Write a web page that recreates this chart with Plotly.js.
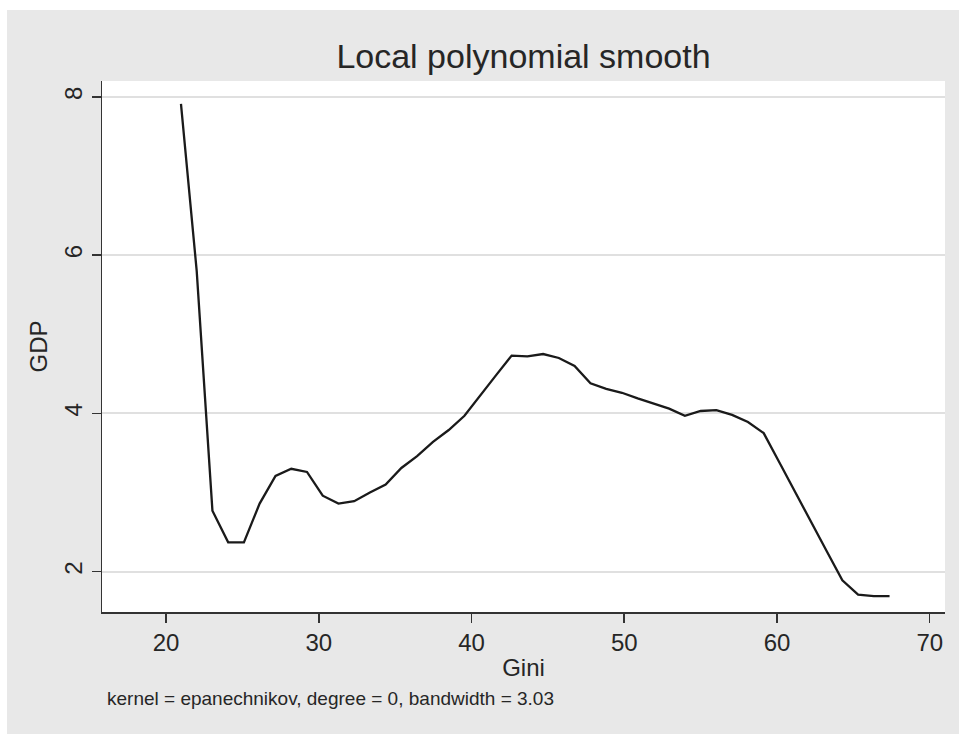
<!DOCTYPE html>
<html>
<head>
<meta charset="utf-8">
<script src="https://cdn.plot.ly/plotly-3.0.1.min.js"></script>
<style>
  html, body { margin: 0; padding: 0; background: #ffffff; }
  #chart { position: absolute; left: 7px; top: 10px; width: 952px; height: 724px; }
</style>
</head>
<body>
<div id="chart"></div>
<script>
// Gini (x) values of the evaluation grid
const gini = [20.98, 22.01, 23.04, 24.07, 25.10, 26.13, 27.17, 28.20, 29.23, 30.26,
              31.29, 32.32, 33.35, 34.38, 35.41, 36.44, 37.48, 38.51, 39.54, 40.57,
              41.60, 42.63, 43.66, 44.69, 45.72, 46.75, 47.79, 48.82, 49.85, 50.88,
              51.91, 52.94, 53.97, 55.00, 56.03, 57.06, 58.10, 59.13, 60.16, 61.19,
              62.22, 63.25, 64.28, 65.31, 66.34, 67.37];
// Smoothed GDP values
const gdp = [7.91, 5.80, 2.77, 2.37, 2.37, 2.86, 3.21, 3.30, 3.26, 2.96,
             2.86, 2.89, 3.00, 3.10, 3.31, 3.46, 3.64, 3.79, 3.97, 4.23,
             4.48, 4.73, 4.72, 4.75, 4.70, 4.60, 4.38, 4.31, 4.26, 4.19,
             4.12, 4.06, 3.97, 4.03, 4.04, 3.98, 3.89, 3.75, 3.38, 3.00,
             2.63, 2.26, 1.89, 1.71, 1.69, 1.69];
const xTicks = [20, 30, 40, 50, 60, 70];
const yTicks = [2, 4, 6, 8];
const chartTitle = "Local polynomial smooth";
const xTitle = "Gini";
const yTitle = "GDP";
const note = "kernel = epanechnikov, degree = 0, bandwidth = 3.03";

const font = "'Liberation Sans', Arial, Helvetica, sans-serif";
const textColor = "#262626";

const trace = {
  x: gini, y: gdp, type: "scatter", mode: "lines",
  line: { color: "#1a1a1a", width: 2.3 },
  hoverinfo: "skip", showlegend: false
};

const layout = {
  width: 952, height: 724,
  paper_bgcolor: "#e8e8e8",
  plot_bgcolor: "#ffffff",
  margin: { l: 95, r: 14, t: 71, b: 122, pad: 0 },
  font: { family: font, color: textColor },
  showlegend: false,
  title: {
    text: chartTitle,
    font: { size: 34, family: font, color: textColor },
    x: 0.5, xref: "paper", xanchor: "center",
    y: 0.9365, yref: "container", yanchor: "middle"
  },
  xaxis: {
    range: [15.81, 71.0],
    tickmode: "array", tickvals: xTicks, ticktext: xTicks.map(String),
    ticks: "outside", ticklen: 9, tickwidth: 1.5, tickcolor: "#333333",
    showline: true, linecolor: "#333333", linewidth: 1.5,
    showgrid: false, zeroline: false,
    tickfont: { size: 24, family: font, color: textColor },
    title: { text: xTitle, font: { size: 24, family: font, color: textColor }, standoff: 4 }
  },
  yaxis: {
    range: [1.49, 8.2],
    tickmode: "array", tickvals: yTicks, ticktext: yTicks.map(String),
    tickangle: -90,
    ticks: "outside", ticklen: 9, tickwidth: 1.5, tickcolor: "#333333",
    showline: true, linecolor: "#333333", linewidth: 1.5,
    showgrid: true, gridcolor: "#e0e0e0", gridwidth: 2,
    zeroline: false,
    tickfont: { size: 24, family: font, color: textColor },
    title: { text: yTitle, font: { size: 24, family: font, color: textColor }, standoff: 5 }
  },
  annotations: [{
    text: note, showarrow: false,
    xref: "paper", yref: "paper",
    x: 0.0035, y: -0.1638, xanchor: "left", yanchor: "middle",
    font: { size: 19, family: font, color: textColor }
  }]
};

Plotly.newPlot("chart", [trace], layout, { displayModeBar: false, staticPlot: true });
</script>
</body>
</html>
